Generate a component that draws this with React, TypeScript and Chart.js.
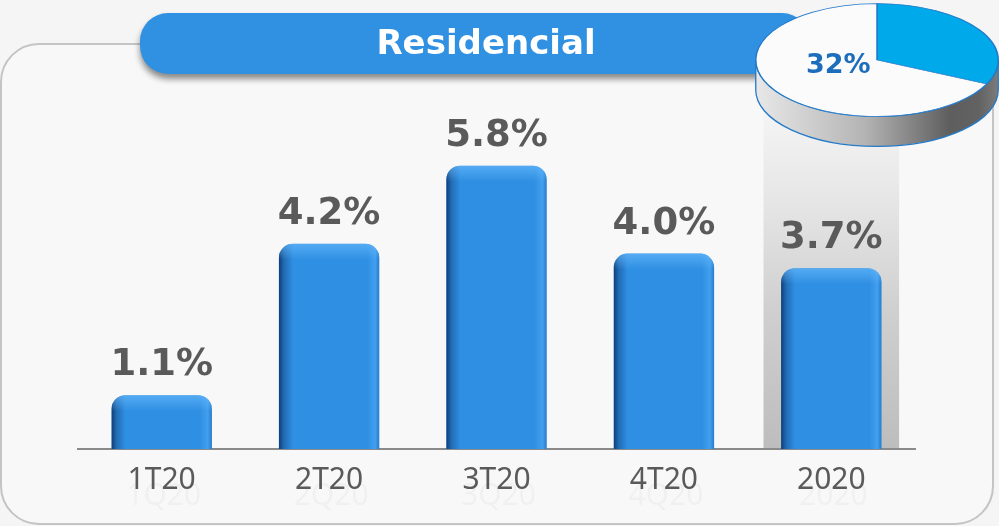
import React, { useEffect, useRef } from 'react';
import { Chart, registerables } from 'chart.js';

Chart.register(...registerables);

const categories = ['1T20', '2T20', '3T20', '4T20', '2020'];
const ghostLabels = ['1Q20', '2Q20', '3Q20', '4Q20', '2020'];
const growth = [1.1, 4.2, 5.8, 4.0, 3.7];
const highlightIndex = 4;
const titleText = 'Residencial';
const pieLabels = ['Residencial', 'Resto'];
const pieShares = [32, 68];
const pieText = '32%';

const W = 999;
const H = 526;
const PIE_LEFT = 752;
const PIE_SIZE = 250;
const PIE_CY = 60;
const SQUASH = 0.465;
const DEPTH = 30;

function roundRect(ctx: CanvasRenderingContext2D, x: number, y: number, w: number, h: number, r: number) {
  ctx.beginPath();
  ctx.moveTo(x + r, y);
  ctx.lineTo(x + w - r, y);
  ctx.arcTo(x + w, y, x + w, y + r, r);
  ctx.lineTo(x + w, y + h - r);
  ctx.arcTo(x + w, y + h, x + w - r, y + h, r);
  ctx.lineTo(x + r, y + h);
  ctx.arcTo(x, y + h, x, y + h - r, r);
  ctx.lineTo(x, y + r);
  ctx.arcTo(x, y, x + r, y, r);
  ctx.closePath();
}

function topRoundPath(ctx: CanvasRenderingContext2D, x: number, y: number, w: number, h: number, r: number) {
  ctx.beginPath();
  ctx.moveTo(x, y + h);
  ctx.lineTo(x, y + r);
  ctx.arcTo(x, y, x + r, y, r);
  ctx.lineTo(x + w - r, y);
  ctx.arcTo(x + w, y, x + w, y + r, r);
  ctx.lineTo(x + w, y + h);
  ctx.closePath();
}

const decorPlugin = {
  id: 'decor',
  beforeDraw(chart: any) {
    const ctx: CanvasRenderingContext2D = chart.ctx;
    ctx.save();
    ctx.fillStyle = '#f5f5f5';
    ctx.fillRect(0, 0, W, H);
    // frame
    roundRect(ctx, 1, 44, 992, 480, 38);
    ctx.fillStyle = '#f8f8f8';
    ctx.fill();
    ctx.strokeStyle = '#c4c4c4';
    ctx.lineWidth = 2;
    ctx.stroke();
    // title pill
    ctx.save();
    ctx.shadowColor = 'rgba(0,0,0,0.45)';
    ctx.shadowBlur = 6;
    ctx.shadowOffsetY = 5;
    roundRect(ctx, 140, 13, 670, 61, 28);
    ctx.fillStyle = '#3090e2';
    ctx.fill();
    ctx.restore();
    ctx.fillStyle = '#ffffff';
    ctx.font = 'bold 34px "DejaVu Sans"';
    ctx.textAlign = 'center';
    ctx.textBaseline = 'middle';
    ctx.fillText(titleText, 486, 45);

    // highlight band behind the annual bar
    const xs = chart.scales.x;
    const area = chart.chartArea;
    const catW = (area.right - area.left) / categories.length;
    const cx = xs.getPixelForValue(highlightIndex);
    const bx = cx - catW * 0.405;
    const bw = catW * 0.81;
    const top = 95;
    const g = ctx.createLinearGradient(0, top, 0, area.bottom);
    g.addColorStop(0, '#f7f7f7');
    g.addColorStop(0.3, '#e6e6e6');
    g.addColorStop(0.6, '#d0d0d0');
    g.addColorStop(1, '#bdbdbd');
    ctx.fillStyle = g;
    ctx.fillRect(bx, top, bw, area.bottom - top);

    // faint reflected labels
    ctx.fillStyle = 'rgba(0,0,0,0.03)';
    ctx.font = '30px "Noto Sans"';
    ctx.textBaseline = 'alphabetic';
    ghostLabels.forEach((t, i) => {
      ctx.fillText(t, xs.getPixelForValue(i) + 2, 505);
    });
    ctx.restore();
  },
  afterDatasetsDraw(chart: any) {
    const ctx: CanvasRenderingContext2D = chart.ctx;
    const meta = chart.getDatasetMeta(0);
    meta.data.forEach((el: any, i: number) => {
      const { x, y, width, base } = el.getProps(['x', 'y', 'width', 'base'], true);
      const left = x - width / 2;
      const h = base - y;
      ctx.save();
      topRoundPath(ctx, left, y, width, h, 14);
      ctx.clip();
      const g = ctx.createLinearGradient(left, 0, left + width, 0);
      g.addColorStop(0, 'rgba(8,40,90,0.8)');
      g.addColorStop(0.05, 'rgba(8,40,90,0.35)');
      g.addColorStop(0.14, 'rgba(8,40,90,0)');
      g.addColorStop(0.88, 'rgba(90,180,255,0)');
      g.addColorStop(0.96, 'rgba(90,180,255,0.45)');
      g.addColorStop(1, 'rgba(30,90,160,0.35)');
      ctx.fillStyle = g;
      ctx.fillRect(left, y, width, h);
      const v = ctx.createLinearGradient(0, y, 0, y + 16);
      v.addColorStop(0, 'rgba(110,190,255,0.6)');
      v.addColorStop(1, 'rgba(110,190,255,0)');
      ctx.fillStyle = v;
      ctx.fillRect(left, y, width, 16);
      ctx.restore();

      ctx.save();
      ctx.fillStyle = '#5a5a5a';
      ctx.font = 'bold 37px "DejaVu Sans"';
      ctx.textAlign = 'center';
      ctx.textBaseline = 'alphabetic';
      ctx.fillText(growth[i].toFixed(1) + '%', x, y - 20);
      ctx.restore();
    });
  },
};

const piePlugin = {
  id: 'pie3d',
  beforeDatasetsDraw(chart: any) {
    const ctx: CanvasRenderingContext2D = chart.ctx;
    const arc = chart.getDatasetMeta(0).data[0];
    const { x: cx, y: cy, outerRadius: r } = arc.getProps(['x', 'y', 'outerRadius'], true);
    const ry = r * SQUASH;
    ctx.save();
    ctx.beginPath();
    ctx.ellipse(cx, PIE_CY, r, ry, 0, 0, Math.PI);
    ctx.lineTo(cx - r, PIE_CY + DEPTH);
    ctx.ellipse(cx, PIE_CY + DEPTH, r, ry, 0, Math.PI, 0, true);
    ctx.closePath();
    const g = ctx.createLinearGradient(cx - r, 0, cx + r, 0);
    g.addColorStop(0, '#e8e8e8');
    g.addColorStop(0.45, '#b4b4b4');
    g.addColorStop(0.8, '#5e5e5e');
    g.addColorStop(0.92, '#626262');
    g.addColorStop(1, '#7c7c7c');
    ctx.fillStyle = g;
    ctx.fill();
    ctx.strokeStyle = '#2479c8';
    ctx.lineWidth = 1.3;
    ctx.stroke();
    ctx.restore();

    ctx.save();
    ctx.translate(0, PIE_CY - cy * SQUASH);
    ctx.scale(1, SQUASH);
  },
  afterDatasetsDraw(chart: any) {
    const ctx: CanvasRenderingContext2D = chart.ctx;
    ctx.restore();
    const arc = chart.getDatasetMeta(0).data[0];
    const { x: cx, outerRadius: r } = arc.getProps(['x', 'outerRadius'], true);
    ctx.save();
    ctx.fillStyle = '#1c6dbb';
    ctx.font = 'bold 27px "DejaVu Sans"';
    ctx.textAlign = 'center';
    ctx.textBaseline = 'middle';
    ctx.fillText(pieText, cx - r * 0.32, PIE_CY + 6);
    ctx.restore();
  },
};

export default function App() {
  const barRef = useRef<HTMLCanvasElement>(null);
  const pieRef = useRef<HTMLCanvasElement>(null);

  useEffect(() => {
    const bar = new Chart(barRef.current as HTMLCanvasElement, {
      type: 'bar',
      data: {
        labels: categories,
        datasets: [
          {
            data: growth,
            backgroundColor: '#2f8fe3',
            borderRadius: { topLeft: 14, topRight: 14, bottomLeft: 0, bottomRight: 0 },
            borderSkipped: 'bottom',
            barPercentage: 0.6,
            categoryPercentage: 1,
          },
        ],
      },
      options: {
        responsive: false,
        animation: false,
        layout: { padding: { left: 78, right: 84, top: 107, bottom: 15 } },
        plugins: { legend: { display: false }, tooltip: { enabled: false }, title: { display: false } },
        scales: {
          x: {
            grid: { display: false, drawTicks: false },
            border: { display: true, color: '#8a8a8a', width: 2 },
            ticks: {
              color: '#5a5a5a',
              font: { family: '"Noto Sans"', size: 30 },
              padding: 13,
              autoSkip: false,
              maxRotation: 0,
            },
          },
          y: { display: false, min: 0, max: 7 },
        },
      },
      plugins: [decorPlugin],
    } as any);

    const pie = new Chart(pieRef.current as HTMLCanvasElement, {
      type: 'pie',
      data: {
        labels: pieLabels,
        datasets: [
          {
            data: pieShares,
            backgroundColor: ['#00a9e9', '#fbfbfb'],
            borderColor: '#2479c8',
            borderWidth: 1.5,
          },
        ],
      },
      options: {
        responsive: false,
        animation: false,
        layout: { padding: 3 },
        plugins: { legend: { display: false }, tooltip: { enabled: false } },
      },
      plugins: [piePlugin],
    } as any);

    return () => {
      bar.destroy();
      pie.destroy();
    };
  }, []);

  return (
    <div style={{ position: 'absolute', left: 0, top: 0, width: W, height: H, overflow: 'hidden', background: '#f5f5f5' }}>
      <canvas ref={barRef} width={W} height={H} style={{ position: 'absolute', left: 0, top: 0, display: 'block' }} />
      <canvas
        ref={pieRef}
        width={PIE_SIZE}
        height={PIE_SIZE}
        style={{ position: 'absolute', left: PIE_LEFT, top: 0, display: 'block', pointerEvents: 'none' }}
      />
    </div>
  );
}
